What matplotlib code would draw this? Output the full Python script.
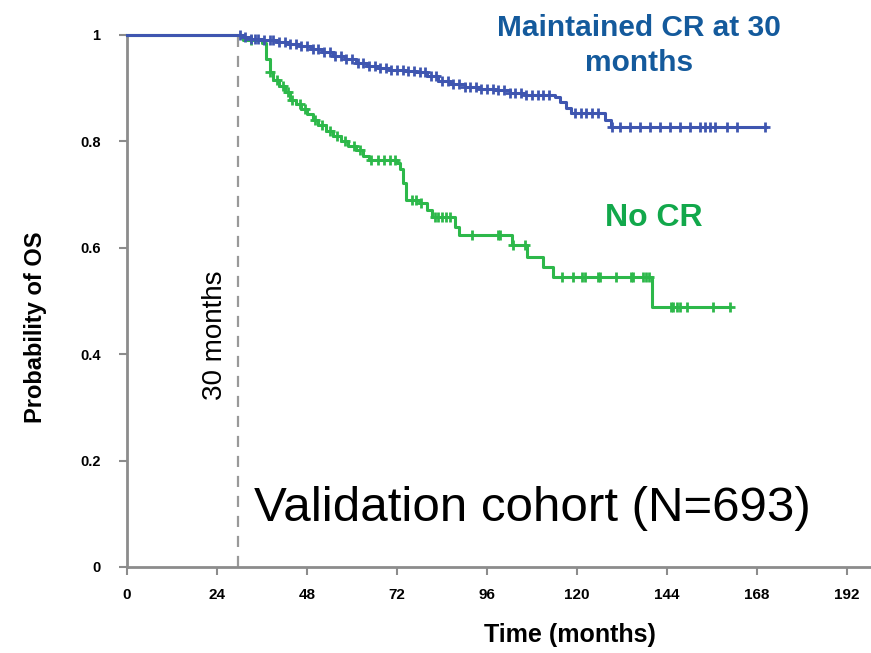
import matplotlib

matplotlib.use("Agg")
import matplotlib.pyplot as plt
from matplotlib import font_manager
import numpy as np

# Kaplan-Meier steps (months, survival)
cr_times = [0, 29, 31, 33, 36, 40, 43, 46, 49, 52, 55, 58, 61, 64, 67, 70, 74,
            77, 80, 83, 86, 90, 94, 98, 102, 106, 114, 115.5, 117, 118.5,
            126, 127.5, 129, 170.5]
cr_surv = [1.0, 1.0, 0.996, 0.993, 0.991, 0.987, 0.983, 0.979, 0.974, 0.968,
           0.961, 0.955, 0.948, 0.942, 0.938, 0.935, 0.933, 0.930, 0.922,
           0.914, 0.908, 0.902, 0.899, 0.896, 0.891, 0.887, 0.884, 0.875,
           0.862, 0.853, 0.853, 0.840, 0.828, 0.828]
cr_censor = [30, 31.5, 33, 34, 35, 36.5, 38, 39, 40.5, 42, 43.5, 45, 46.5, 48,
             49.5, 51, 52.5, 54, 55.5, 57, 58.5, 60, 61.5, 63, 64.5, 66, 67.5,
             69, 70.5, 72, 73.5, 75, 76.5, 78, 79.5, 81, 82.5, 84, 85.5, 87,
             88.5, 90, 91.5, 93, 94.5, 96, 97.5, 99, 100.5, 102, 103.5, 105,
             106.5, 108, 109.5, 111, 112.5, 119.5, 121, 122.5, 124, 125.5,
             129.3, 131.5, 134.1, 136.8, 139.5, 142.1, 144.8, 147.5, 150.1,
             152.8, 154.1, 155.5, 156.8, 159.9, 162.6, 170.1]

nocr_times = [0, 31, 36, 37, 38, 39, 40.5, 42, 43.5, 45, 46.5, 48, 49.5, 51,
              53, 55, 57, 59, 61, 63, 64.5, 72, 72.8, 73.5, 74.5, 78, 80,
              81.3, 87.5, 88.4, 102.6, 106.6, 111, 113.7, 139.9, 160.8]
nocr_surv = [1.0, 0.99, 0.985, 0.955, 0.93, 0.915, 0.905, 0.893, 0.878, 0.87,
             0.86, 0.852, 0.84, 0.83, 0.82, 0.81, 0.80, 0.792, 0.784, 0.772,
             0.765, 0.76, 0.748, 0.722, 0.69, 0.684, 0.671, 0.658, 0.64,
             0.624, 0.605, 0.583, 0.564, 0.546, 0.489, 0.489]
nocr_censor = [33, 38, 40, 41.5, 43, 44, 46, 47.5, 50, 52, 54, 56, 58, 60.5,
               62, 65, 67, 68.5, 70, 71.5, 76, 77, 78.5, 82, 83, 84, 85, 86,
               91.9, 99.0, 99.5, 103.0, 106.1, 115.9, 119.0, 121.3, 122.1,
               125.7, 126.1, 130.5, 134.5, 134.9, 137.6, 138.5, 139.3, 145.1,
               145.7, 146.6, 147.5, 149.3, 156.3, 160.8]

xticks = [0, 24, 48, 72, 96, 120, 144, 168, 192]
yticks = [0, 0.2, 0.4, 0.6, 0.8, 1]
ytick_labels = ["0", "0.2", "0.4", "0.6", "0.8", "1"]
landmark = 29.5

BLUE = "#3F56B0"
GREEN = "#2DB84A"
AXIS = "#8C8C8C"


def step_at(times, surv, t):
    idx = np.searchsorted(times, t, side="right") - 1
    return np.asarray(surv)[idx]


plt.rcParams["font.family"] = ["Liberation Sans", "DejaVu Sans"]

# narrow face for the x axis, if there is one
try:
    font_manager.findfont("Liberation Sans Narrow", fallback_to_default=False)
    NARROW = ["Liberation Sans Narrow", "Liberation Sans"]
    narrow_ok = True
except ValueError:
    NARROW = ["Liberation Sans"]
    narrow_ok = False

fig = plt.figure(figsize=(8.71, 6.53), dpi=100)
ax = fig.add_axes([127 / 871, 86 / 653, 742.5 / 871, 532 / 653])

ax.plot([landmark, landmark], [0, 1], color="#999999", lw=1.6,
        dashes=(5, 4), zorder=1)

for times, surv, cens, color in [
    (nocr_times, nocr_surv, nocr_censor, GREEN),
    (cr_times, cr_surv, cr_censor, BLUE),
]:
    ax.plot(times, surv, drawstyle="steps-post", color=color, lw=2.2,
            clip_on=False, zorder=3)
    ax.plot(cens, step_at(times, surv, cens), linestyle="none", marker="+",
            ms=6.5, mew=2, color=color, clip_on=False, zorder=3)

ax.set_xlim(0, 198)
ax.set_ylim(0, 1)
ax.set_xticks(xticks)
ax.set_xticklabels([str(t) for t in xticks],
                   fontsize=12 if narrow_ok else 11, fontweight="bold",
                   family=NARROW)
ax.set_yticks(yticks)
ax.set_yticklabels(ytick_labels, fontsize=10.5, fontweight="bold")

for side in ["top", "right"]:
    ax.spines[side].set_visible(False)
for side in ["left", "bottom"]:
    ax.spines[side].set_color(AXIS)
    ax.spines[side].set_linewidth(2)
ax.tick_params(axis="both", colors=AXIS, width=1.5, length=6,
               labelcolor="black")
ax.tick_params(axis="x", pad=9)
ax.tick_params(axis="y", pad=13)

ax.text(118, -0.128, "Time (months)", fontsize=20 if narrow_ok else 18,
        fontweight="bold", family=NARROW, ha="center", va="center",
        clip_on=False)
ax.text(-24.5, 0.45, "Probability of OS", fontsize=17, fontweight="bold",
        rotation=90, ha="center", va="center", clip_on=False)

ax.text(23.5, 0.436, "30 months", rotation=90, fontsize=20, ha="center",
        va="center")
ax.text(136.6, 0.98, "Maintained CR at 30\nmonths", fontsize=21.5,
        fontweight="bold", color="#145A9C", ha="center", va="center",
        linespacing=1.3)
ax.text(140.5, 0.656, "No CR", fontsize=23, fontweight="bold",
        color="#12A84B", ha="center", va="center")
ax.text(108, 0.11, "Validation cohort (N=693)", fontsize=35.5, ha="center",
        va="center")

fig.savefig("out.png", dpi=100)
